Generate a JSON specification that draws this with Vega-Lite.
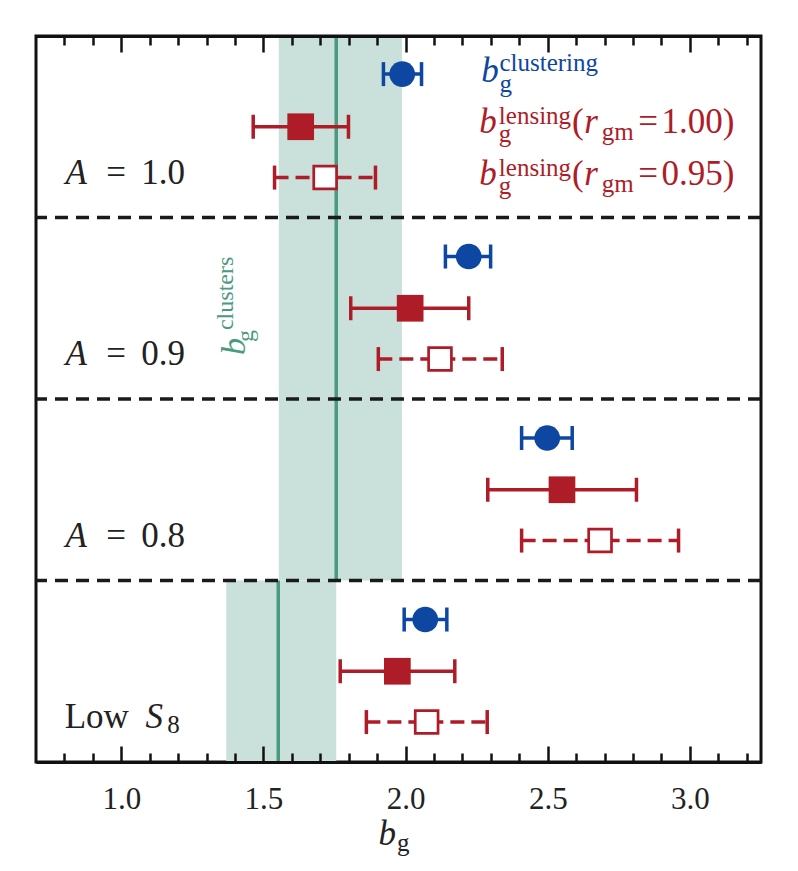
{
  "$schema": "https://vega.github.io/schema/vega-lite/v6.json",
  "width": 725,
  "height": 726,
  "autosize": {"type": "none"},
  "padding": {"left": 36, "top": 36, "right": 37, "bottom": 109},
  "background": "white",
  "config": {
    "view": {"stroke": "#111111", "strokeWidth": 3},
    "font": "Liberation Serif"
  },
  "datasets": {
    "points": [
      {"panel": "A = 1.0", "series": "r_clust", "group": "clustering", "y": 3.79, "b": 1.988, "lo": 1.922, "hi": 2.056},
      {"panel": "A = 1.0", "series": "r100", "group": "lensing", "y": 3.5, "b": 1.631, "lo": 1.464, "hi": 1.799},
      {"panel": "A = 1.0", "series": "r095", "group": "lensing", "y": 3.22, "b": 1.717, "lo": 1.539, "hi": 1.894},
      {"panel": "A = 0.9", "series": "r_clust", "group": "clustering", "y": 2.785, "b": 2.222, "lo": 2.14, "hi": 2.299},
      {"panel": "A = 0.9", "series": "r100", "group": "lensing", "y": 2.5, "b": 2.016, "lo": 1.807, "hi": 2.222},
      {"panel": "A = 0.9", "series": "r095", "group": "lensing", "y": 2.22, "b": 2.121, "lo": 1.904, "hi": 2.34},
      {"panel": "A = 0.8", "series": "r_clust", "group": "clustering", "y": 1.785, "b": 2.498, "lo": 2.408, "hi": 2.586},
      {"panel": "A = 0.8", "series": "r100", "group": "lensing", "y": 1.5, "b": 2.55, "lo": 2.289, "hi": 2.812},
      {"panel": "A = 0.8", "series": "r095", "group": "lensing", "y": 1.22, "b": 2.684, "lo": 2.408, "hi": 2.96},
      {"panel": "Low S8", "series": "r_clust", "group": "clustering", "y": 0.785, "b": 2.069, "lo": 1.995, "hi": 2.145},
      {"panel": "Low S8", "series": "r100", "group": "lensing", "y": 0.5, "b": 1.971, "lo": 1.77, "hi": 2.173},
      {"panel": "Low S8", "series": "r095", "group": "lensing", "y": 0.22, "b": 2.074, "lo": 1.862, "hi": 2.287}
    ],
    "bands": [
      {"lo": 1.554, "hi": 1.987, "mid": 1.756, "ybot": 1, "ytop": 4},
      {"lo": 1.369, "hi": 1.756, "mid": 1.552, "ybot": 0, "ytop": 1}
    ],
    "seps": [{"y": 1}, {"y": 2}, {"y": 3}],
    "labels": [
      {"text": "A", "x": 0.804, "y": 3.185, "style": "it", "group": "panel"},
      {"text": "=", "x": 0.947, "y": 3.185, "style": "rm", "group": "panel"},
      {"text": "1.0", "x": 1.07, "y": 3.185, "style": "rm", "group": "panel"},
      {"text": "A", "x": 0.804, "y": 2.185, "style": "it", "group": "panel"},
      {"text": "=", "x": 0.947, "y": 2.185, "style": "rm", "group": "panel"},
      {"text": "0.9", "x": 1.07, "y": 2.185, "style": "rm", "group": "panel"},
      {"text": "A", "x": 0.804, "y": 1.185, "style": "it", "group": "panel"},
      {"text": "=", "x": 0.947, "y": 1.185, "style": "rm", "group": "panel"},
      {"text": "0.8", "x": 1.07, "y": 1.185, "style": "rm", "group": "panel"},
      {"text": "Low", "x": 0.801, "y": 0.185, "style": "rm", "group": "panel"},
      {"text": "S", "x": 1.085, "y": 0.185, "style": "it", "group": "panel"},
      {"text": "8", "x": 1.162, "y": 0.161, "style": "sc", "group": "panel"},
      {"text": "b", "x": 2.266, "y": 3.748, "style": "it", "group": "clustering"},
      {"text": "clustering", "x": 2.33, "y": 3.807, "style": "sc", "group": "clustering"},
      {"text": "g", "x": 2.33, "y": 3.693, "style": "sc", "group": "clustering"},
      {"text": "b", "x": 2.259, "y": 3.464, "style": "it", "group": "lensing"},
      {"text": "lensing", "x": 2.328, "y": 3.515, "style": "sc", "group": "lensing"},
      {"text": "g", "x": 2.328, "y": 3.418, "style": "sc", "group": "lensing"},
      {"text": "(", "x": 2.585, "y": 3.464, "style": "rm", "group": "lensing"},
      {"text": "r", "x": 2.628, "y": 3.464, "style": "it", "group": "lensing"},
      {"text": "gm", "x": 2.69, "y": 3.427, "style": "sc", "group": "lensing"},
      {"text": "=", "x": 2.818, "y": 3.464, "style": "rm", "group": "lensing"},
      {"text": "1.00)", "x": 2.9, "y": 3.464, "style": "rm", "group": "lensing"},
      {"text": "b", "x": 2.259, "y": 3.178, "style": "it", "group": "lensing"},
      {"text": "lensing", "x": 2.328, "y": 3.2285, "style": "sc", "group": "lensing"},
      {"text": "g", "x": 2.328, "y": 3.1315, "style": "sc", "group": "lensing"},
      {"text": "(", "x": 2.585, "y": 3.178, "style": "rm", "group": "lensing"},
      {"text": "r", "x": 2.628, "y": 3.178, "style": "it", "group": "lensing"},
      {"text": "gm", "x": 2.69, "y": 3.1405, "style": "sc", "group": "lensing"},
      {"text": "=", "x": 2.818, "y": 3.178, "style": "rm", "group": "lensing"},
      {"text": "0.95)", "x": 2.9, "y": 3.178, "style": "rm", "group": "lensing"},
      {"text": "b", "x": 1.4336, "y": 2.242, "style": "rit", "group": "clusters"},
      {"text": "clusters", "x": 1.3914, "y": 2.38, "style": "rsc", "group": "clusters"},
      {"text": "g", "x": 1.4617, "y": 2.314, "style": "rsc", "group": "clusters"},
      {"text": "b", "x": 1.905, "y": -0.46, "style": "it", "group": "panel"},
      {"text": "g", "x": 1.97, "y": -0.49, "style": "sc", "group": "panel"}
    ]
  },
  "resolve": {"axis": {"x": "independent"}},
  "layer": [
    {
      "data": {"name": "bands"},
      "mark": {"type": "rect", "color": "#c9e1da"},
      "encoding": {
        "x": {
          "field": "lo", "type": "quantitative",
          "scale": {"domain": [0.7, 3.25], "nice": false, "zero": false},
          "axis": {
            "orient": "bottom", "title": null, "labels": false, "domain": false, "grid": false,
            "values": [0.8, 0.9, 1.1, 1.2, 1.3, 1.4, 1.6, 1.7, 1.8, 1.9, 2.1, 2.2, 2.3, 2.4, 2.6, 2.7, 2.8, 2.9, 3.1, 3.2],
            "tickSize": -9, "tickWidth": 2.5, "tickColor": "#111111", "zindex": 1
          }
        },
        "x2": {"field": "hi"},
        "y": {
          "field": "ybot", "type": "quantitative",
          "scale": {"domain": [0, 4], "nice": false, "zero": false},
          "axis": null
        },
        "y2": {"field": "ytop"}
      }
    },
    {
      "data": {"name": "bands"},
      "mark": {"type": "rule", "color": "#4a9a80", "strokeWidth": 3.5},
      "encoding": {
        "x": {
          "field": "mid", "type": "quantitative",
          "axis": {
            "orient": "top", "title": null, "labels": false, "domain": false, "grid": false,
            "values": [0.8, 0.9, 1.1, 1.2, 1.3, 1.4, 1.6, 1.7, 1.8, 1.9, 2.1, 2.2, 2.3, 2.4, 2.6, 2.7, 2.8, 2.9, 3.1, 3.2],
            "tickSize": -9, "tickWidth": 2.5, "tickColor": "#111111", "zindex": 1
          }
        },
        "y": {"field": "ybot", "type": "quantitative", "axis": null},
        "y2": {"field": "ytop"}
      }
    },
    {
      "data": {"name": "seps"},
      "mark": {"type": "rule", "color": "#1a1a1a", "strokeWidth": 3.5, "strokeDash": [13, 8]},
      "encoding": {
        "y": {"field": "y", "type": "quantitative", "axis": null}
      }
    },
    {
      "data": {"name": "points"},
      "transform": [{"filter": "datum.series != 'r095'"}],
      "mark": {"type": "rule", "strokeWidth": 3.5},
      "encoding": {
        "x": {
          "field": "lo", "type": "quantitative",
          "axis": {
            "orient": "bottom", "title": null, "grid": false,
            "values": [1, 1.5, 2, 2.5, 3], "format": ".1f",
            "tickSize": -16, "tickWidth": 2.5, "tickColor": "#111111",
            "domain": true, "domainWidth": 3, "domainColor": "#111111",
            "labelFont": "Liberation Serif", "labelFontSize": 31, "labelColor": "#222222",
            "labelPadding": 38, "labelFlush": false, "zindex": 1
          }
        },
        "x2": {"field": "hi"},
        "y": {"field": "y", "type": "quantitative", "axis": null},
        "color": {
          "field": "group", "type": "nominal", "legend": null,
          "scale": {"domain": ["clustering", "lensing", "clusters", "panel"], "range": ["#0d47a1", "#ae1c28", "#4a9a80", "#222222"]}
        }
      }
    },
    {
      "data": {"name": "points"},
      "transform": [{"filter": "datum.series == 'r095'"}],
      "mark": {"type": "rule", "strokeWidth": 3.5, "strokeDash": [14, 7], "color": "#ae1c28"},
      "encoding": {
        "x": {"field": "lo", "type": "quantitative", "axis": null},
        "x2": {"field": "hi"},
        "y": {"field": "y", "type": "quantitative", "axis": null}
      }
    },
    {
      "data": {"name": "points"},
      "transform": [{"fold": ["lo", "hi"], "as": ["end", "xv"]}],
      "mark": {"type": "tick", "orient": "vertical", "size": 24, "thickness": 3.5, "opacity": 1},
      "encoding": {
        "x": {
          "field": "xv", "type": "quantitative",
          "axis": {
            "orient": "top", "title": null, "labels": false, "grid": false,
            "values": [1, 1.5, 2, 2.5, 3],
            "tickSize": -16, "tickWidth": 2.5, "tickColor": "#111111",
            "domain": true, "domainWidth": 3, "domainColor": "#111111", "zindex": 1
          }
        },
        "y": {"field": "y", "type": "quantitative", "axis": null},
        "color": {
          "field": "group", "type": "nominal", "legend": null,
          "scale": {"domain": ["clustering", "lensing", "clusters", "panel"], "range": ["#0d47a1", "#ae1c28", "#4a9a80", "#222222"]}
        }
      }
    },
    {
      "data": {"name": "points"},
      "transform": [{"filter": "datum.series == 'r_clust'"}],
      "mark": {"type": "point", "shape": "circle", "filled": true, "size": 660, "color": "#0d47a1", "opacity": 1},
      "encoding": {
        "x": {"field": "b", "type": "quantitative", "axis": null},
        "y": {"field": "y", "type": "quantitative", "axis": null}
      }
    },
    {
      "data": {"name": "points"},
      "transform": [{"filter": "datum.series == 'r100'"}],
      "mark": {"type": "point", "shape": "square", "filled": true, "size": 713, "color": "#ae1c28", "opacity": 1},
      "encoding": {
        "x": {"field": "b", "type": "quantitative", "axis": null},
        "y": {"field": "y", "type": "quantitative", "axis": null}
      }
    },
    {
      "data": {"name": "points"},
      "transform": [{"filter": "datum.series == 'r095'"}],
      "mark": {"type": "point", "shape": "square", "filled": true, "size": 520, "fill": "white", "stroke": "#ae1c28", "strokeWidth": 2.7, "opacity": 1},
      "encoding": {
        "x": {"field": "b", "type": "quantitative", "axis": null},
        "y": {"field": "y", "type": "quantitative", "axis": null}
      }
    },
    {
      "data": {"name": "labels"},
      "transform": [{"filter": "datum.style == 'it'"}],
      "mark": {"type": "text", "align": "left", "baseline": "alphabetic", "font": "Liberation Serif", "fontStyle": "italic", "fontSize": 35},
      "encoding": {
        "x": {"field": "x", "type": "quantitative", "axis": null},
        "y": {"field": "y", "type": "quantitative", "axis": null},
        "text": {"field": "text"},
        "color": {
          "field": "group", "type": "nominal", "legend": null,
          "scale": {"domain": ["clustering", "lensing", "clusters", "panel"], "range": ["#0d47a1", "#ae1c28", "#4a9a80", "#222222"]}
        }
      }
    },
    {
      "data": {"name": "labels"},
      "transform": [{"filter": "datum.style == 'rm'"}],
      "mark": {"type": "text", "align": "left", "baseline": "alphabetic", "font": "Liberation Serif", "fontSize": 35},
      "encoding": {
        "x": {"field": "x", "type": "quantitative", "axis": null},
        "y": {"field": "y", "type": "quantitative", "axis": null},
        "text": {"field": "text"},
        "color": {
          "field": "group", "type": "nominal", "legend": null,
          "scale": {"domain": ["clustering", "lensing", "clusters", "panel"], "range": ["#0d47a1", "#ae1c28", "#4a9a80", "#222222"]}
        }
      }
    },
    {
      "data": {"name": "labels"},
      "transform": [{"filter": "datum.style == 'sc'"}],
      "mark": {"type": "text", "align": "left", "baseline": "alphabetic", "font": "Liberation Serif", "fontSize": 25},
      "encoding": {
        "x": {"field": "x", "type": "quantitative", "axis": null},
        "y": {"field": "y", "type": "quantitative", "axis": null},
        "text": {"field": "text"},
        "color": {
          "field": "group", "type": "nominal", "legend": null,
          "scale": {"domain": ["clustering", "lensing", "clusters", "panel"], "range": ["#0d47a1", "#ae1c28", "#4a9a80", "#222222"]}
        }
      }
    },
    {
      "data": {"name": "labels"},
      "transform": [{"filter": "datum.style == 'rit'"}],
      "mark": {"type": "text", "align": "left", "baseline": "alphabetic", "angle": 270, "font": "Liberation Serif", "fontStyle": "italic", "fontSize": 34},
      "encoding": {
        "x": {"field": "x", "type": "quantitative", "axis": null},
        "y": {"field": "y", "type": "quantitative", "axis": null},
        "text": {"field": "text"},
        "color": {
          "field": "group", "type": "nominal", "legend": null,
          "scale": {"domain": ["clustering", "lensing", "clusters", "panel"], "range": ["#0d47a1", "#ae1c28", "#4a9a80", "#222222"]}
        }
      }
    },
    {
      "data": {"name": "labels"},
      "transform": [{"filter": "datum.style == 'rsc'"}],
      "mark": {"type": "text", "align": "left", "baseline": "alphabetic", "angle": 270, "font": "Liberation Serif", "fontSize": 24},
      "encoding": {
        "x": {"field": "x", "type": "quantitative", "axis": null},
        "y": {"field": "y", "type": "quantitative", "axis": null},
        "text": {"field": "text"},
        "color": {
          "field": "group", "type": "nominal", "legend": null,
          "scale": {"domain": ["clustering", "lensing", "clusters", "panel"], "range": ["#0d47a1", "#ae1c28", "#4a9a80", "#222222"]}
        }
      }
    }
  ]
}
